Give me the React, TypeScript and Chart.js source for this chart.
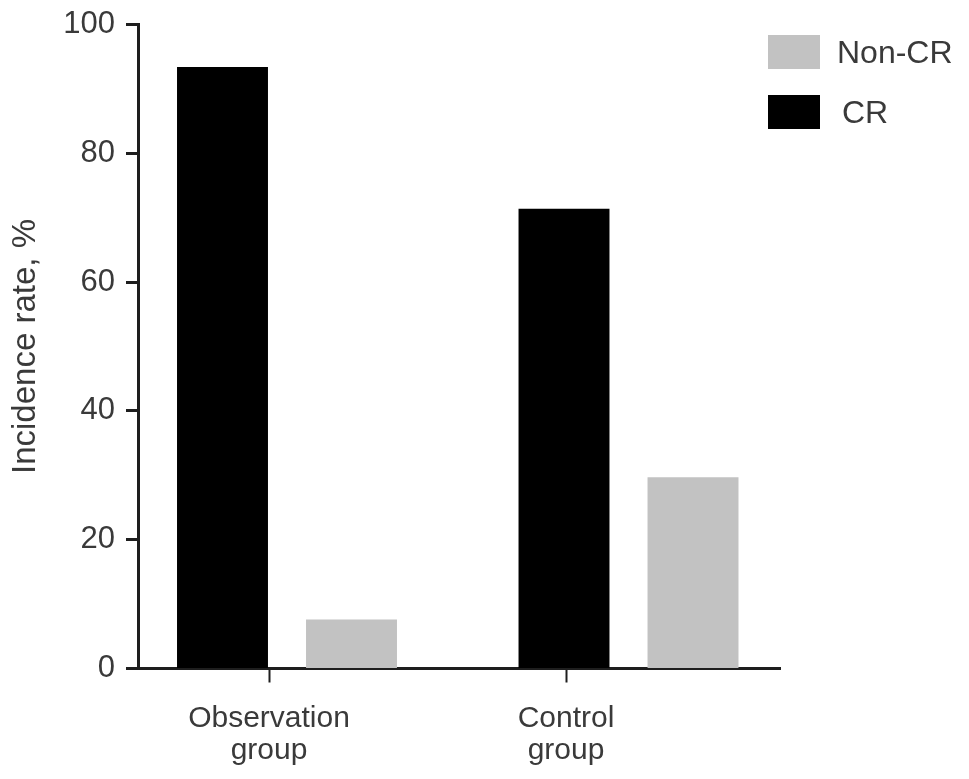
import React, { useEffect, useRef } from "react";
import { Chart, registerables } from "chart.js";

Chart.register(...registerables);

// ---- data ----
const groups = ["Observation group", "Control group"];
const seriesNames = ["CR", "Non-CR"];
const crValues = [93.4, 71.4];
const nonCrValues = [7.6, 29.7];
const seriesColors = ["#000000", "#c2c2c2"];
const yTicks = [0, 20, 40, 60, 80, 100];
const yTitle = "Incidence rate, %";

const FONT = "'Liberation Sans', Arial, Helvetica, sans-serif";
const TEXT = "#3a3a3a";
const AXIS = "#1e1e1e";

const sideLegend = {
  id: "sideLegend",
  afterDraw(chart: any) {
    const { ctx, chartArea } = chart;
    const items = chart.data.datasets.slice().reverse();
    const boxX = chartArea.right - 12;
    const boxW = 52;
    const boxH = 34;
    ctx.save();
    ctx.font = `32px ${FONT}`;
    ctx.textBaseline = "middle";
    ctx.textAlign = "left";
    items.forEach((ds: any, i: number) => {
      const top = chartArea.top + 10.5 + i * 60;
      ctx.fillStyle = ds.backgroundColor;
      ctx.fillRect(boxX, top, boxW, boxH);
      ctx.fillStyle = TEXT;
      ctx.fillText(ds.label, boxX + boxW + 17 + (i === 1 ? 5 : 0), top + boxH / 2 + 2);
    });
    ctx.restore();
  },
};

export default function App() {
  const ref = useRef<HTMLCanvasElement | null>(null);

  useEffect(() => {
    document.body.style.margin = "0";
    const canvas = ref.current;
    if (!canvas) return;
    const values = [crValues, nonCrValues];
    const chart = new Chart(canvas, {
      type: "bar",
      data: {
        datasets: seriesNames.map((name, s) => ({
          label: name,
          data: values[s].map((v, i) => ({ x: i, y: v })),
          backgroundColor: seriesColors[s],
          borderWidth: 0,
          xAxisID: "xb",
          yAxisID: "y",
          barPercentage: 0.705,
          categoryPercentage: 0.7555,
        })),
      },
      options: {
        responsive: false,
        animation: false,
        devicePixelRatio: 1,
        layout: { padding: { top: 24.5, right: 189, bottom: 0, left: 0 } },
        plugins: {
          legend: { display: false },
          tooltip: { enabled: false },
        },
        scales: {
          xb: {
            type: "linear",
            display: false,
            offset: false,
            grid: { offset: false },
            min: -0.4363,
            max: 1.4436,
            afterBuildTicks: (scale: any) => {
              scale.ticks = groups.map((_, i) => ({ value: i }));
            },
          },
          x: {
            type: "linear",
            position: "bottom",
            offset: false,
            min: -0.4411,
            max: 1.7205,
            z: 2,
            afterBuildTicks: (scale: any) => {
              scale.ticks = groups.map((_, i) => ({ value: i }));
            },
            afterFit: (scale: any) => {
              scale.height = 779 - 668.5;
              scale.paddingLeft = 0;
              scale.paddingRight = 0;
            },
            border: { display: true, color: AXIS, width: 3 },
            grid: {
              display: true,
              offset: false,
              drawOnChartArea: false,
              drawTicks: true,
              tickLength: 14,
              tickColor: AXIS,
              tickWidth: 2,
            },
            ticks: {
              autoSkip: false,
              maxRotation: 0,
              minRotation: 0,
              padding: 20,
              color: TEXT,
              font: { family: FONT, size: 30, lineHeight: 1.07 },
              callback: (_v: any, index: number) => groups[index].split(" "),
            },
          },
          y: {
            type: "linear",
            min: yTicks[0],
            max: yTicks[yTicks.length - 1],
            z: 2,
            afterBuildTicks: (scale: any) => {
              scale.ticks = yTicks.map((v) => ({ value: v }));
            },
            afterFit: (scale: any) => {
              scale.width = 138;
              scale.paddingTop = 0;
              scale.paddingBottom = 0;
            },
            border: { display: true, color: AXIS, width: 3 },
            grid: {
              display: true,
              drawOnChartArea: false,
              drawTicks: true,
              tickLength: 12,
              tickColor: AXIS,
              tickWidth: 3,
            },
            ticks: {
              padding: 11,
              color: TEXT,
              font: { family: FONT, size: 31 },
            },
            title: {
              display: true,
              text: yTitle,
              color: TEXT,
              font: { family: FONT, size: 33, lineHeight: 1.2 },
              padding: { top: 6, bottom: 0 },
            },
          },
        },
      } as any,
      plugins: [sideLegend],
    });
    return () => chart.destroy();
  }, []);

  return (
    <div style={{ width: 969, height: 779, background: "#fff" }}>
      <canvas ref={ref} width={969} height={779} style={{ display: "block" }} />
    </div>
  );
}
